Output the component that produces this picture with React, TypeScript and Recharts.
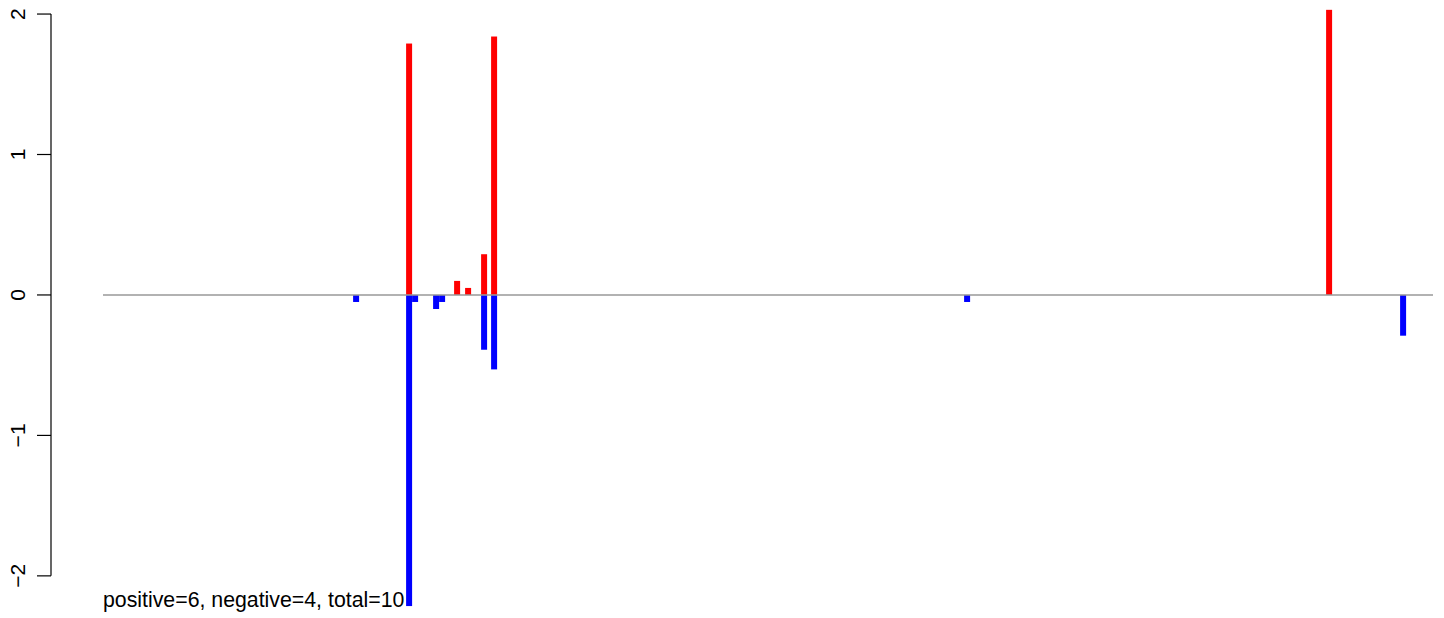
import React from "react";
import { ComposedChart, Bar, XAxis, YAxis, ReferenceLine } from "recharts";

// positions along the horizontal axis (arbitrary units)
const positions = [253, 306, 312, 333, 339, 354, 365, 381, 391, 864, 1226, 1300];
const positiveValues = [0, 1.79, 0, 0, 0, 0.1, 0.05, 0.29, 1.84, 0, 2.03, 0];
const negativeValues = [-0.05, -2.215, -0.05, -0.1, -0.05, 0, 0, -0.39, -0.53, -0.05, 0, -0.29];
const yTicks = [-2, -1, 0, 1, 2];
const yTickLabels = ["\u22122", "\u22121", "0", "1", "2"];
const xDomain: [number, number] = [-52, 1341];
const yDomain: [number, number] = [-2.3, 2.1];
const zeroLineRange = [0, 1330];
const caption = "positive=6, negative=4, total=10";

const data = positions.map((p, i) => ({
  pos: p,
  positive: positiveValues[i] === 0 ? null : positiveValues[i],
  negative: negativeValues[i] === 0 ? null : negativeValues[i],
}));

const FONT = "'Liberation Sans', Arial, Helvetica, sans-serif";

const BarShape = (props: any) => {
  const { x, y, width, height, fill } = props;
  if (x == null || y == null || !height) return null;
  const cx = x + width / 2;
  const top = Math.min(y, y + height);
  const h = Math.abs(height);
  return <rect x={cx - 3} y={top} width={6} height={h} fill={fill} />;
};

const YTick = (props: any) => {
  const { y, payload } = props;
  const idx = yTicks.indexOf(payload.value);
  const label = idx >= 0 ? yTickLabels[idx] : String(payload.value);
  return (
    <g>
      <line x1={37} x2={51} y1={y} y2={y} stroke="#000" strokeWidth={1.2} />
      <text
        transform={`translate(25, ${y}) rotate(-90)`}
        textAnchor="middle"
        fontSize={21}
        fontFamily={FONT}
        fill="#000"
      >
        {label}
      </text>
    </g>
  );
};

export default function App() {
  return (
    <div style={{ position: "absolute", left: 0, top: 0, width: 1444, height: 618, background: "#fff" }}>
      <ComposedChart
        width={1444}
        height={618}
        data={data}
        margin={{ top: 0, right: 0, bottom: 0, left: 0 }}
        stackOffset="sign"
      >
        <XAxis type="number" dataKey="pos" domain={xDomain} hide allowDataOverflow />
        <YAxis
          type="number"
          domain={yDomain}
          ticks={yTicks}
          width={51}
          axisLine={false}
          tickLine={false}
          tick={<YTick />}
          interval={0}
          allowDataOverflow
        />
        <ReferenceLine
          segment={[{ x: zeroLineRange[0], y: 0 }, { x: zeroLineRange[1], y: 0 }]}
          stroke="#999"
          strokeWidth={1.5}
          ifOverflow="visible"
        />
        <ReferenceLine
          segment={[{ x: xDomain[0], y: yTicks[0] }, { x: xDomain[0], y: yTicks[yTicks.length - 1] }]}
          stroke="#000"
          strokeWidth={1.2}
          ifOverflow="visible"
        />
        <Bar dataKey="positive" stackId="s" fill="#FF0000" shape={<BarShape />} isAnimationActive={false} />
        <Bar dataKey="negative" stackId="s" fill="#0000FF" shape={<BarShape />} isAnimationActive={false} />
      </ComposedChart>
      <svg
        width={1444}
        height={618}
        style={{ position: "absolute", left: 0, top: 0, pointerEvents: "none" }}
      >
        <text x={103} y={607} fontSize={21.3} fontFamily={FONT} fill="#000">
          {caption}
        </text>
      </svg>
    </div>
  );
}
